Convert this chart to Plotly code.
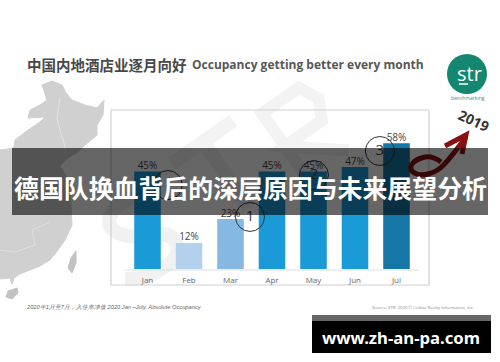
import math
import plotly.graph_objects as go

W, H = 500, 362

months = ["Jan", "Feb", "Mar", "Apr", "May", "Jun", "Jul"]
occupancy = [45, 12, 23, 45, 45, 47, 58]
bar_colors = ["#1a9ad6", "#b3d0ec", "#85b9e3", "#1a9ad6", "#1a9ad6", "#1a9ad6", "#1477a5"]
callout_x = [0.49, 2.47, 4.01, 5.6]
callout_y = [38.7, 24, 43.3, 54.4]
callout_text = ["", "1", "2", "3"]

title_cn = "中国内地酒店业逐月向好"
title_en = "Occupancy getting better every month"
banner = "德国队换血背后的深层原因与未来展望分析"
site = "www.zh-an-pa.com"
footer_left = "2020年1月至7月，入住率净值 2020 Jan –July, Absolute Occupancy"
footer_right = "Source: STR. 2020 © CoStar Realty Information, Inc."


def fx(x):
    return x / W


def fy(y):
    return 1 - y / H


def poly(points, close=True):
    s = "M " + " L ".join(f"{fx(x):.4f},{fy(y):.4f}" for x, y in points)
    return s + (" Z" if close else "")


def curve(points):
    """Smooth path through pixel points using quadratic mid-point joins."""
    s = f"M {fx(points[0][0]):.4f},{fy(points[0][1]):.4f}"
    for i in range(1, len(points) - 1):
        mx = (points[i][0] + points[i + 1][0]) / 2
        my = (points[i][1] + points[i + 1][1]) / 2
        s += f" Q {fx(points[i][0]):.4f},{fy(points[i][1]):.4f} {fx(mx):.4f},{fy(my):.4f}"
    s += f" L {fx(points[-1][0]):.4f},{fy(points[-1][1]):.4f}"
    return s


def rect(x0, y0, x1, y1, **kw):
    return dict(type="rect", xref="paper", yref="paper", x0=fx(x0), x1=fx(x1),
                y0=fy(y1), y1=fy(y0), **kw)


def wm(points, ox, oy, scale=1.0, angle=-35):
    a = math.radians(angle)
    out = []
    for x, y in points:
        x, y = x * scale, y * scale
        out.append((ox + x * math.cos(a) - y * math.sin(a),
                    oy + x * math.sin(a) + y * math.cos(a)))
    return out


china = [(52, 81), (62, 85), (66, 93), (72, 100), (85, 105), (97, 108), (104, 100), (103, 115),
         (97, 125), (97, 135), (85, 145), (78, 152), (68, 158), (60, 166), (66, 176), (70, 190),
         (71, 205), (72, 225), (65, 240), (58, 250), (50, 260), (40, 266), (20, 274), (14, 278),
         (12, 284), (10, 278), (0, 279), (0, 150), (14, 148), (15, 140), (28, 130), (40, 122),
         (45, 117), (28, 118), (30, 110), (40, 105), (47, 100), (42, 85)]
taiwan = [(76, 251), (71, 258), (68, 268), (72, 273), (76, 263)]
hainan = [(17, 288), (8, 291), (6, 297), (12, 299), (18, 293)]

shapes = [
    # watermark letters
    dict(type="path", xref="paper", yref="paper", layer="below",
         path=curve(wm([(75, -55), (45, -75), (12, -60), (30, -32), (65, -18), (60, 8), (20, 8), (0, -5)], 128, 283)),
         line=dict(color="#f1f1f1", width=14)),
    dict(type="path", xref="paper", yref="paper", layer="below",
         path=poly(wm([(0, -75), (75, -75)], 215, 225), False), line=dict(color="#f3f3f3", width=14)),
    dict(type="path", xref="paper", yref="paper", layer="below",
         path=poly(wm([(38, -75), (38, 5)], 215, 225), False), line=dict(color="#f3f3f3", width=14)),
    dict(type="path", xref="paper", yref="paper", layer="below",
         path=poly(wm([(0, 5), (0, -75), (45, -75), (55, -55), (45, -35), (0, -35), (50, 5)], 305, 175), False),
         line=dict(color="#f3f3f3", width=12)),
    # map
    dict(type="path", xref="paper", yref="paper", layer="below", path=poly(china),
         fillcolor="#d0d0d0", line=dict(color="#d0d0d0", width=1)),
    dict(type="path", xref="paper", yref="paper", layer="below", path=poly(taiwan),
         fillcolor="#c2c2c2", line=dict(color="#c2c2c2", width=1)),
    dict(type="path", xref="paper", yref="paper", layer="below", path=poly(hainan),
         fillcolor="#c2c2c2", line=dict(color="#c2c2c2", width=1)),
    dict(type="path", xref="paper", yref="paper", layer="below",
         path=poly([(60, 98), (57, 118), (60, 130), (66, 150)], False), line=dict(color="#e4e4e4", width=1)),
    dict(type="path", xref="paper", yref="paper", layer="below",
         path=poly([(0, 250), (15, 252), (35, 245), (32, 230), (50, 222)], False), line=dict(color="#e0e0e0", width=1)),
    # chart card
    rect(111, 110, 429, 285, layer="below", fillcolor="rgba(255,255,255,0)",
         line=dict(color="#cfcfcf", width=1.2)),
    dict(type="line", xref="paper", yref="paper", layer="below", x0=fx(124), x1=fx(419), y0=fy(270), y1=fy(270),
         line=dict(color="#dddddd", width=1)),
    # logo
    dict(type="circle", xref="paper", yref="paper", x0=fx(447), x1=fx(487), y0=fy(94), y1=fy(54),
         fillcolor="#13876f", line=dict(width=0)),
    dict(type="line", xref="paper", yref="paper", x0=fx(459), x1=fx(468), y0=fy(84), y1=fy(84),
         line=dict(color="white", width=1.5)),
    # red hand-drawn arrow
    dict(type="path", xref="paper", yref="paper", layer="above",
         path=curve([(441, 162), (432, 155), (414, 160), (409, 170), (420, 176), (436, 172), (447, 162), (466, 137)]),
         line=dict(color="#8a0f10", width=5)),
    dict(type="path", xref="paper", yref="paper", layer="above",
         path=poly([(445, 146), (466, 135), (462, 154)], False), line=dict(color="#8a0f10", width=5)),
    # banner
    rect(12, 148, 488, 215, layer="above", fillcolor="rgba(0,0,0,0.6)", line=dict(width=0)),
    rect(312, 315, 491, 321, layer="above", fillcolor="#666666", line=dict(width=0)),
    rect(312, 321, 491, 353, layer="above", fillcolor="#000000", line=dict(width=0)),
]


def ann(text, x, y, size, color, anchor="left", font="Noto Sans CJK SC", angle=0):
    return dict(text=text, xref="paper", yref="paper", x=fx(x), y=fy(y), xanchor=anchor, yanchor="middle",
                showarrow=False, textangle=angle, font=dict(size=size, color=color, family=font))


annotations = [
    ann(f"<b>{title_cn}</b>", 25, 64, 14.5, "#484848"),
    ann(f"<b>{title_en}</b>", 190, 64, 12, "#575757", font="Open Sans"),
    ann("str", 469, 73, 20, "white", "center", "Open Sans"),
    ann("benchmarking", 468, 98, 5, "#3f8f80", "center", "Open Sans"),
    ann("<b>2019</b>", 474, 120, 14, "#333333", "center", "Open Sans", 25),
    ann(f"<i>{footer_left}</i>", 24, 307, 5.7, "#666666", font="Liberation Sans"),
    ann(footer_right, 370, 307, 4.3, "#888888", font="Open Sans"),
    ann(f"<b>{banner}</b>", 250, 187, 24.9, "white", "center"),
    ann(f"<b>{site}</b>", 401, 337, 16.7, "white", "center", "Noto Sans"),
]

fig = go.Figure()
fig.add_trace(go.Bar(
    x=list(range(len(months))), y=occupancy, width=0.64,
    marker=dict(color=bar_colors, line=dict(width=0)),
    showlegend=False,
))
fig.add_trace(go.Scatter(
    x=list(range(len(months))), y=occupancy, mode="text",
    text=[f"{v}%" for v in occupancy], textposition="top center", cliponaxis=False,
    textfont=dict(size=10, color="#444444", family="Open Sans"),
    showlegend=False,
))
fig.add_trace(go.Scatter(
    x=callout_x, y=callout_y, mode="markers+text", text=callout_text, textposition="middle center",
    textfont=dict(size=15, color="#444444", family="Open Sans"), cliponaxis=False,
    marker=dict(symbol="circle-open", size=29, color="#333333", line=dict(width=1, color="#333333")),
    showlegend=False,
))

px0 = 126.75
px1 = 417.25
fig.update_layout(
    width=W, height=H, autosize=False,
    margin=dict(l=0, r=0, t=0, b=0),
    paper_bgcolor="white", plot_bgcolor="rgba(0,0,0,0)",
    shapes=shapes, annotations=annotations,
    xaxis=dict(domain=[fx(px0), fx(px1)], range=[-0.5, 6.5], tickmode="array",
               tickvals=list(range(len(months))), ticktext=months, showgrid=False, zeroline=False,
               showline=False, ticks="", ticklabelstandoff=5,
               tickfont=dict(size=8, color="#666666", family="Open Sans")),
    yaxis=dict(domain=[fy(269), fy(110)], range=[0, 73.3], visible=False),
)
fig.write_html("out.html", config=dict(displayModeBar=False),
               post_script="document.body.style.margin='0';document.documentElement.style.overflow='hidden';")
